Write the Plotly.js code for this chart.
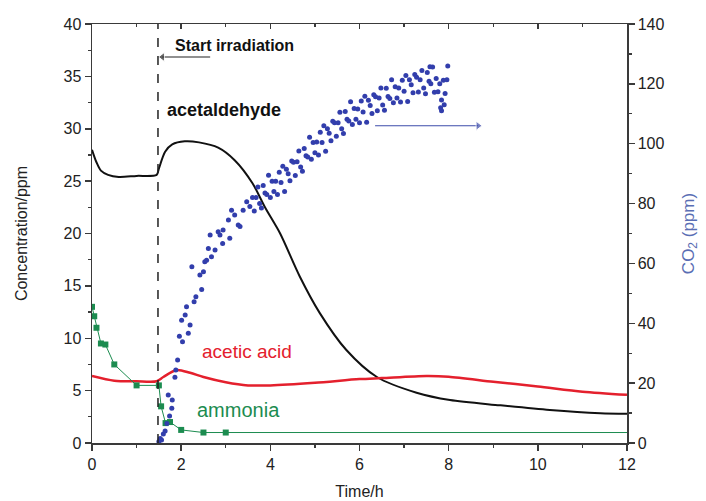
<!DOCTYPE html>
<html>
<head>
<meta charset="utf-8">
<script src="https://cdn.plot.ly/plotly-3.0.1.min.js"></script>
<style>html,body{margin:0;padding:0;background:#fff;}#chart{width:706px;height:501px;}</style>
</head>
<body>
<div id="chart"></div>
<script>
// ---- data ----
const acetaldehydeTime = [0, 0.1, 0.2, 0.36, 0.6, 1.0, 1.45, 1.5, 1.64, 1.8, 2.08, 2.4, 2.83, 3.2, 3.6, 3.88, 4.22, 4.66, 5.11, 5.7, 6.39, 7.28, 8.03, 9.15, 10.27, 11.4, 12];
const acetaldehydePpm  = [28.0, 26.8, 26.0, 25.6, 25.4, 25.5, 25.6, 26.2, 27.8, 28.5, 28.8, 28.7, 28.2, 27.0, 24.8, 22.5, 20.0, 15.9, 12.4, 8.9, 6.3, 4.8, 4.1, 3.6, 3.15, 2.85, 2.8];

const aceticTime = [0, 0.5, 1.0, 1.45, 1.6, 1.9, 2.2, 2.5, 3.0, 3.5, 4.0, 5.0, 6.0, 6.5, 7.5, 8.0, 9.0, 10, 11, 12];
const aceticPpm  = [6.4, 5.95, 5.9, 5.9, 6.3, 6.97, 6.7, 6.3, 5.8, 5.5, 5.5, 5.75, 6.1, 6.2, 6.4, 6.33, 5.85, 5.4, 4.9, 4.6];

const ammoniaTime = [0, 0.05, 0.1, 0.2, 0.3, 0.5, 1.0, 1.5, 1.55, 1.65, 1.75, 2.0, 2.5, 3.0];
const ammoniaPpm  = [13.0, 12.1, 11.0, 9.5, 9.4, 7.5, 5.5, 5.5, 3.5, 1.9, 2.0, 1.25, 1.0, 1.0];
const ammoniaTailTime = [3.0, 12];
const ammoniaTailPpm  = [1.0, 1.0];

const co2Time = [1.50,1.53,1.56,1.60,1.64,1.68,1.71,1.74,1.79,1.80,1.86,1.88,1.92,1.96,2.01,2.03,2.09,2.12,2.16,2.20,2.24,2.29,2.33,2.42,2.46,2.50,2.53,2.57,2.61,2.65,2.68,2.76,2.83,2.87,2.93,2.94,3.06,3.09,3.13,3.20,3.28,3.32,3.39,3.47,3.54,
3.60,3.64,3.68,3.72,3.76,3.80,3.84,3.88,3.92,3.96,4.00,4.04,4.08,4.12,4.16,4.20,4.24,4.28,4.32,4.36,4.40,4.44,4.48,4.52,4.56,4.60,4.64,4.68,4.72,4.76,4.80,4.84,4.88,4.92,4.96,5.00,5.04,5.08,5.12,5.16,5.20,5.24,5.28,5.32,5.36,5.40,5.44,5.48,5.52,5.56,5.60,5.64,5.68,5.72,5.76,5.80,5.84,5.88,5.92,5.96,6.00,6.04,6.08,6.12,6.16,6.20,6.24,6.28,6.32,6.36,6.40,6.44,6.48,6.52,6.56,6.60,6.64,6.68,6.72,6.76,6.80,6.84,6.88,6.92,6.96,7.00,7.04,7.08,7.12,7.16,7.20,7.24,7.28,7.32,7.36,7.40,7.44,7.48,7.52,7.56,7.60,7.64,7.68,7.72,7.76,7.80,7.84,7.88,7.92,7.96,
7.98,7.84,7.58,7.90,7.82];
const co2Ppm = [0.5,1.5,1,3,4,6.5,16,9,11.6,14.4,22,24.4,27.7,35.7,41,33.8,42.8,45.5,36.7,39.4,58.9,47.2,48.9,56.1,51.3,57.2,60.6,61.1,65,69.5,62.2,64.5,70.6,69.5,66.7,71.2,74.5,68.4,77.8,76.2,72.8,72.3,77.8,80.6,79,
82,77.5,82,85.5,80,78.5,86,83.5,83,89.5,82,87.5,84,87.5,83,90.5,87,92.5,84,91.5,90,87.6,94.2,93.8,89.4,94,97.6,92.2,90.8,98.4,96,95.6,102.2,94.8,100.4,97,100.6,96.2,103.8,100.4,106,97.5,105,103.5,101,107.5,107,102.5,107,110.5,105,103.4,110.8,108.2,107.6,114,106.4,111.8,108.2,111.6,107,114.3,110.6,115.9,107.2,114.5,112.8,110.1,116.4,115.7,111,115.3,118.6,112.9,111.2,118.5,115.8,115.1,121.4,113.7,119,115.3,118.6,113.9,121.2,117.5,122.8,114.1,121.4,119.7,117,123.1,122.2,117.3,121.4,124.5,118.6,116.7,123.8,120.9,120,125.6,117.2,121.8,117.4,120,114.6,121.2,116.8,121.4,
126,111,125.7,113,112];

const startIrradiation = 1.48;
// pointer arrows (annotation guides): [tail, head]
const irradiationArrowTime = [2.65, 1.58];
const irradiationArrowPpm  = [36.85, 36.85];
const co2ArrowTime = [6.35, 8.66];
const co2ArrowPpm  = [106, 106];

const xTicks = [0, 2, 4, 6, 8, 10, 12];
const yTicks = [0, 5, 10, 15, 20, 25, 30, 35, 40];
const y2Ticks = [0, 20, 40, 60, 80, 100, 120, 140];

// ---- styles ----
const FONT = '"Liberation Sans", Arial, sans-serif';
const axisCol = '#3a3a3a';
const blue = 'rgb(50,62,172)';
const arrowBlue = 'rgb(60,75,170)';
const red = 'rgb(228,32,45)';
const green = 'rgb(28,140,80)';

const traces = [
  {x: acetaldehydeTime, y: acetaldehydePpm, mode: 'lines', line: {color: '#111', width: 2, shape: 'spline', smoothing: 0.8}, xaxis: 'x', yaxis: 'y', hoverinfo: 'skip'},
  {x: aceticTime, y: aceticPpm, mode: 'lines', line: {color: red, width: 2.5, shape: 'spline', smoothing: 0.8}, xaxis: 'x', yaxis: 'y', hoverinfo: 'skip'},
  {x: ammoniaTailTime, y: ammoniaTailPpm, mode: 'lines', line: {color: green, width: 1}, xaxis: 'x', yaxis: 'y', hoverinfo: 'skip'},
  {x: ammoniaTime, y: ammoniaPpm, mode: 'lines+markers', line: {color: green, width: 1}, marker: {symbol: 'square', size: 6, color: green}, xaxis: 'x', yaxis: 'y', hoverinfo: 'skip'},
  {x: co2Time, y: co2Ppm, mode: 'markers', marker: {size: 5, color: blue}, xaxis: 'x2', yaxis: 'y2', hoverinfo: 'skip'},
  {x: irradiationArrowTime, y: irradiationArrowPpm, mode: 'lines+markers', line: {color: '#222', width: 1.2},
   marker: {symbol: ['circle', 'triangle-left'], size: [0, 8], color: '#222'}, xaxis: 'x', yaxis: 'y', hoverinfo: 'skip'},
  {x: co2ArrowTime, y: co2ArrowPpm, mode: 'lines+markers', line: {color: arrowBlue, width: 1.2},
   marker: {symbol: ['circle', 'triangle-right'], size: [0, 8], color: arrowBlue}, xaxis: 'x2', yaxis: 'y2', hoverinfo: 'skip'}
];

const layout = {
  width: 706, height: 501,
  margin: {l: 92, r: 79, t: 24, b: 58},
  paper_bgcolor: '#fff', plot_bgcolor: '#fff',
  showlegend: false,
  font: {family: FONT, size: 16, color: '#222'},
  xaxis: {
    range: [0, 12], tickvals: xTicks, showgrid: false, zeroline: false,
    showline: true, linecolor: axisCol, linewidth: 1.5,
    ticks: 'outside', ticklen: 6, tickwidth: 1.5, tickcolor: axisCol,
    minor: {dtick: 1, ticklen: 3, tickwidth: 1.2, tickcolor: axisCol, ticks: 'outside'},
    tickfont: {size: 16, color: '#222'},
    title: {text: 'Time/h', font: {size: 16, color: '#222'}, standoff: 14}
  },
  xaxis2: {
    range: [0, 12], tickvals: xTicks, overlaying: 'x', side: 'top', anchor: 'y2',
    showgrid: false, zeroline: false, showticklabels: false,
    showline: true, linecolor: axisCol, linewidth: 1.5,
    ticks: 'inside', ticklen: 5, tickwidth: 1.5, tickcolor: axisCol,
    minor: {dtick: 1, ticklen: 3, tickwidth: 1.2, tickcolor: axisCol, ticks: 'inside'}
  },
  yaxis: {
    range: [0, 40], tickvals: yTicks, showgrid: false, zeroline: false,
    showline: true, linecolor: axisCol, linewidth: 1.5,
    ticks: 'outside', ticklen: 6, tickwidth: 1.5, tickcolor: axisCol,
    minor: {dtick: 2.5, ticklen: 3, tickwidth: 1.2, tickcolor: axisCol, ticks: 'outside'},
    tickfont: {size: 16, color: '#222'},
    title: {text: 'Concentration/ppm', font: {size: 16, color: '#222'}, standoff: 32}
  },
  yaxis2: {
    range: [0, 140], tickvals: y2Ticks, overlaying: 'y', side: 'right', anchor: 'x2', showgrid: false, zeroline: false,
    showline: true, linecolor: axisCol, linewidth: 1.5,
    ticks: 'outside', ticklen: 6, tickwidth: 1.5, tickcolor: axisCol,
    minor: {dtick: 10, ticklen: 3, tickwidth: 1.2, tickcolor: axisCol, ticks: 'outside'},
    tickfont: {size: 16, color: '#222'},
    title: {text: 'CO<sub>2</sub> (ppm)', font: {size: 17, color: 'rgb(90,110,180)'}, standoff: 18}
  },
  shapes: [
    {type: 'line', xref: 'x', yref: 'y', x0: startIrradiation, x1: startIrradiation, y0: 0, y1: 40,
     line: {color: '#222', width: 1.5, dash: 'dash'}}
  ],
  annotations: [
    {text: 'Start irradiation', x: 1.82, y: 37.96, xref: 'x', yref: 'y', xanchor: 'left', yanchor: 'middle', showarrow: false,
     font: {size: 16, color: '#111', weight: 'bold'}},
    {text: 'acetaldehyde', x: 1.64, y: 31.8, xref: 'x', yref: 'y', xanchor: 'left', yanchor: 'middle', showarrow: false,
     font: {size: 18, color: '#111', weight: 'bold'}},
    {text: 'acetic acid', x: 2.42, y: 8.7, xref: 'x', yref: 'y', xanchor: 'left', yanchor: 'middle', showarrow: false,
     font: {size: 19, color: red}},
    {text: 'ammonia', x: 2.31, y: 3.15, xref: 'x', yref: 'y', xanchor: 'left', yanchor: 'middle', showarrow: false,
     font: {size: 20, color: green}}
  ]
};

Plotly.newPlot('chart', traces, layout, {staticPlot: true, displayModeBar: false});
</script>
</body>
</html>
